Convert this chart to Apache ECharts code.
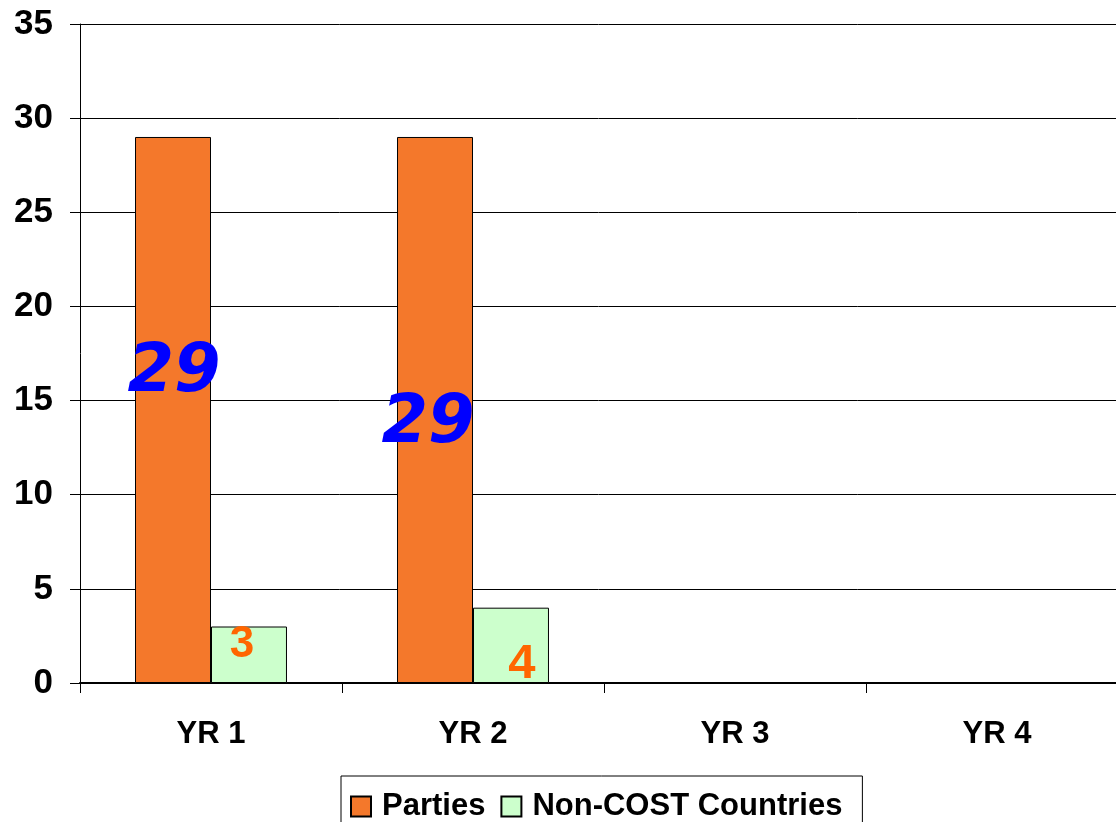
<!DOCTYPE html>
<html>
<head>
<meta charset="utf-8">
<script src="https://cdn.jsdelivr.net/npm/echarts@6/dist/echarts.min.js"></script>
<style>
  html, body { margin: 0; padding: 0; background: #fff; }
  #chart { width: 1116px; height: 822px; }
</style>
</head>
<body>
<div id="chart"></div>
<script>
const categories = ['YR 1', 'YR 2', 'YR 3', 'YR 4'];
const parties = [29, 29, null, null];
const nonCost = [3, 4, null, null];
const yTicks = [0, 5, 10, 15, 20, 25, 30, 35];

// label nudges, the original labels sit a little off centre
const partiesLabelOffset = [[1, -36], [-7, 15]];
const nonCostLabelOffset = [[-7, -10], [11, 19]];
const nonCostLabelSize = [44, 49];

const fontFamily = '"Liberation Sans", Arial, sans-serif';

function withLabels(values, offsets, labelStyle, sizes) {
  return values.map((v, i) => {
    if (v == null) return v;
    const label = Object.assign({}, labelStyle, { offset: offsets[i] || [0, 0] });
    if (sizes) label.fontSize = sizes[i];
    return { value: v, label };
  });
}

const chart = echarts.init(document.getElementById('chart'));

const option = {
  animation: false,
  // plot runs past the right edge of the picture
  grid: { left: 80, top: 24, width: 1048, height: 659, outerBoundsMode: 'none', containLabel: false },
  legend: {
    left: 341,
    top: 776,
    padding: [15, 20, 20, 9],
    borderColor: '#000',
    borderWidth: 1,
    icon: 'rect',
    itemWidth: 20,
    itemHeight: 20,
    itemGap: 15,
    textStyle: {
      fontFamily,
      fontWeight: 'bold',
      fontSize: 31,
      color: '#000',
      padding: [0, 0, 0, 6]
    },
    data: ['Parties', 'Non-COST Countries']
  },
  xAxis: {
    type: 'category',
    data: categories,
    axisLine: { lineStyle: { color: '#000', width: 2 } },
    axisTick: { show: true, length: 10, lineStyle: { color: '#000' } },
    axisLabel: {
      margin: 36,
      fontFamily,
      fontWeight: 'bold',
      fontSize: 31,
      color: '#000'
    }
  },
  yAxis: {
    type: 'value',
    min: yTicks[0],
    max: yTicks[yTicks.length - 1],
    interval: 5,
    axisLine: { show: true, lineStyle: { color: '#000', width: 1 } },
    axisTick: { show: true, length: 10, lineStyle: { color: '#000' } },
    axisLabel: {
      margin: 27,
      fontFamily,
      fontWeight: 'bold',
      fontSize: 35,
      color: '#000'
    },
    splitLine: { lineStyle: { color: '#000', width: 1 } }
  },
  series: [
    {
      name: 'Parties',
      type: 'bar',
      barGap: '0%',
      barCategoryGap: '42%',
      itemStyle: { color: '#F4782B', borderColor: '#000', borderWidth: 1 },
      data: withLabels(parties, partiesLabelOffset, {
        show: true,
        position: 'inside',
        color: '#0000FF',
        fontFamily: '"DejaVu Sans", sans-serif',
        fontWeight: 'bold',
        fontStyle: 'italic',
        fontSize: 67
      })
    },
    {
      name: 'Non-COST Countries',
      type: 'bar',
      itemStyle: { color: '#CCFFCC', borderColor: '#000', borderWidth: 1 },
      data: withLabels(nonCost, nonCostLabelOffset, {
        show: true,
        position: 'inside',
        color: '#FF6600',
        fontFamily,
        fontWeight: 'bold'
      }, nonCostLabelSize)
    }
  ]
};

chart.setOption(option);
</script>
</body>
</html>
